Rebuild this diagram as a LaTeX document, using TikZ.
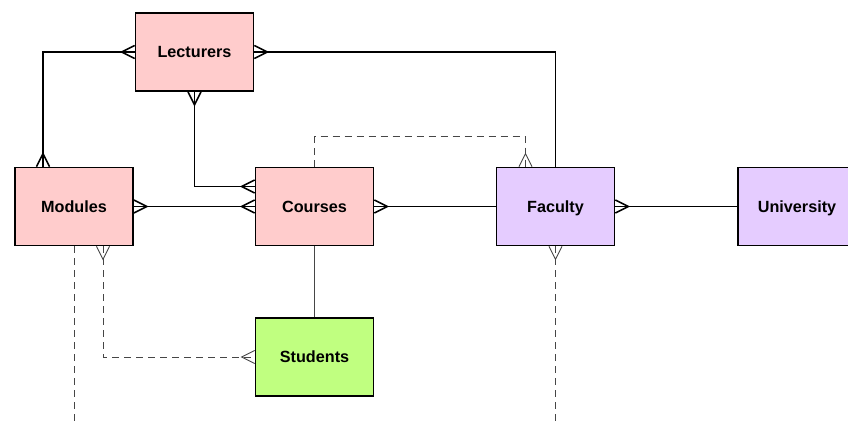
\documentclass[tikz,border=0pt]{standalone}
\usepackage{fontspec}
\setmainfont{Liberation Sans}
\usetikzlibrary{calc}
\definecolor{pinkbox}{RGB}{255,204,204}
\definecolor{lavbox}{RGB}{229,204,255}
\definecolor{greenbox}{RGB}{192,255,128}
\definecolor{thingray}{RGB}{70,70,70}
\tikzset{
  entity/.style={draw=black, line width=1.6pt, minimum width=118pt, minimum height=78pt,
    inner sep=0pt, text height=11.6pt, text depth=0pt,
    font=\fontsize{16.2}{19}\selectfont\bfseries},
  conn/.style={draw=black, line width=1.6pt},
  thinconn/.style={draw=thingray, line width=0.9pt},
  dashconn/.style={draw=thingray, line width=0.9pt, dash pattern=on 7pt off 5pt},
  crowthick/.style={draw=black, line width=1.6pt, line join=miter},
  crowthin/.style={draw=thingray, line width=0.9pt, line join=miter},
}
\newcommand\crowft[3][crowthick]{%
  \begin{scope}[shift={(#2)},rotate=#3]
    \draw[#1] (0,6.5) -- (13,0) -- (0,-6.5);
  \end{scope}}
\begin{document}
\begin{tikzpicture}[x=1pt,y=1pt]
  \useasboundingbox[fill=white] (0,0) rectangle (848,423);
  \node[entity, fill=pinkbox] (Lecturers) at (194.5,371) {Lecturers};
  \node[entity, fill=pinkbox] (Modules) at (74,216.5) {Modules};
  \node[entity, fill=pinkbox] (Courses) at (314.5,216.5) {Courses};
  \node[entity, fill=lavbox] (Faculty) at (555.5,216.5) {Faculty};
  \node[entity, fill=lavbox] (University) at (797,216.5) {University};
  \node[entity, fill=greenbox] (Students) at (314.5,66) {Students};

  \coordinate (lmB) at ([xshift=-31pt]Modules.north);
  \coordinate (lcB) at ([yshift=20pt]Courses.west);
  \coordinate (cfB) at ([xshift=-30pt]Faculty.north);
  \coordinate (msA) at ([xshift=29pt]Modules.south);
  \coordinate (mEnd) at (74,-5);
  \coordinate (fEnd) at (555.5,-5);

  % thin and dashed connectors
  \draw[dashconn] (Courses.north) -- ++(0,30) -| (cfB);
  \crowft[crowthin]{cfB}{90}
  \draw[thinconn] (Courses.south) -- (Students.north);
  \draw[dashconn] (Modules.south) -- (mEnd);
  \draw[dashconn] (msA) |- (Students.west);
  \crowft[crowthin]{msA}{-90}
  \crowft[crowthin]{Students.west}{180}
  \draw[dashconn] (Faculty.south) -- (fEnd);
  \crowft[crowthin]{Faculty.south}{-90}

  % thick connectors
  \draw[conn] (Lecturers.west) -| (lmB);
  \crowft{Lecturers.west}{180}
  \crowft{lmB}{90}
  \draw[conn] (Lecturers.east) -| (Faculty.north);
  \crowft{Lecturers.east}{0}
  \draw[conn] (Lecturers.south) |- (lcB);
  \crowft{Lecturers.south}{-90}
  \crowft{lcB}{180}
  \draw[conn] (Modules.east) -- (Courses.west);
  \crowft{Modules.east}{0}
  \crowft{Courses.west}{180}
  \draw[conn] (Courses.east) -- (Faculty.west);
  \crowft{Courses.east}{0}
  \draw[conn] (Faculty.east) -- (University.west);
  \crowft{Faculty.east}{0}
\end{tikzpicture}
\end{document}
